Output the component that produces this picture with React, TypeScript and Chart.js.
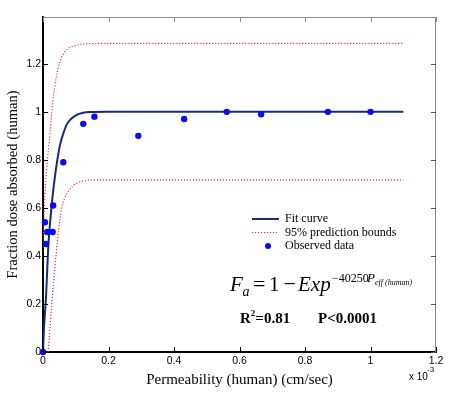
import React, { useEffect, useRef } from 'react';
import { Chart, registerables } from 'chart.js';

Chart.register(...registerables);

// x values are in units of 1e-3 cm/sec
const fitX = [0, 0.003, 0.009, 0.016, 0.0265, 0.037, 0.045, 0.052, 0.062, 0.072, 0.085, 0.103, 0.12, 0.144, 0.2, 0.4, 0.7, 1.1];
const fitY = [0, 0.1, 0.224, 0.432, 0.6125, 0.737, 0.81, 0.8625, 0.91, 0.946, 0.97, 0.9875, 0.995, 0.999, 1.0, 1.0, 1.0, 1.0];

const upperX = [0, 0.004, 0.011, 0.021, 0.03, 0.04, 0.052, 0.062, 0.072, 0.085, 0.103, 0.12, 0.144, 0.2, 0.5, 1.1];
const upperY = [0.42, 0.6, 0.76, 0.904, 1.043, 1.14, 1.21, 1.24, 1.258, 1.27, 1.278, 1.282, 1.284, 1.285, 1.285, 1.285];

const lowerX = [0.016, 0.019, 0.0265, 0.037, 0.047, 0.057, 0.066, 0.077, 0.09, 0.103, 0.12, 0.144, 0.2, 0.5, 1.1];
const lowerY = [0, 0.057, 0.196, 0.3625, 0.501, 0.599, 0.64, 0.668, 0.69, 0.703, 0.711, 0.716, 0.717, 0.717, 0.717];

const obsX = [0, 0.006, 0.009, 0.013, 0.0295, 0.031, 0.062, 0.123, 0.157, 0.291, 0.431, 0.561, 0.666, 0.87, 1.0];
const obsY = [0, 0.54, 0.45, 0.5, 0.5, 0.61, 0.79, 0.95, 0.98, 0.9, 0.97, 1.0, 0.99, 1.0, 1.0];

const xTicks = [0, 0.2, 0.4, 0.6, 0.8, 1.0, 1.2];
const yTicks = [0, 0.2, 0.4, 0.6, 0.8, 1.0, 1.2];

const legendLabels = ['Fit curve', '95% prediction bounds', 'Observed data'];
const xTitle = 'Permeability (human) (cm/sec)';
const yTitle = 'Fraction dose absorbed (human)';

const FIT_COLOR = '#1b2a78';
const BOUND_COLOR = '#e0333a';
const OBS_COLOR = '#0a0af5';
const SERIF = "'Liberation Serif', 'Times New Roman', serif";
const SANS = "'Liberation Sans', Arial, sans-serif";

const pts = (xs: number[], ys: number[]) => xs.map((x, i) => ({ x, y: ys[i] }));
const fmt = (v: number) => String(Math.round(v * 10) / 10);

export default function App() {
  const ref = useRef<HTMLCanvasElement>(null);

  useEffect(() => {
    document.body.style.margin = '0';
    const canvas = ref.current;
    if (!canvas) return;

    const overlay = {
      id: 'overlay',
      afterDraw(chart: any) {
        const c = chart.ctx as CanvasRenderingContext2D;
        const { left, right, top, bottom } = chart.chartArea;
        const xs = chart.scales.x;
        const ys = chart.scales.y;
        c.save();
        // top / right frame
        c.strokeStyle = '#8a8a8a';
        c.lineWidth = 1;
        c.beginPath();
        c.moveTo(left, top + 0.5);
        c.lineTo(right - 0.5, top + 0.5);
        c.lineTo(right - 0.5, bottom);
        c.stroke();
        // inner tick marks
        c.lineWidth = 1;
        for (const v of xTicks) {
          const px = Math.round(xs.getPixelForValue(v)) + 0.5;
          c.strokeStyle = '#000';
          c.beginPath();
          c.moveTo(px, bottom);
          c.lineTo(px, bottom - 5);
          c.stroke();
          c.strokeStyle = '#8a8a8a';
          c.beginPath();
          c.moveTo(px, top);
          c.lineTo(px, top + 5);
          c.stroke();
        }
        for (const v of yTicks) {
          const py = Math.round(ys.getPixelForValue(v)) + 0.5;
          c.strokeStyle = '#000';
          c.beginPath();
          c.moveTo(left, py);
          c.lineTo(left + 5, py);
          c.stroke();
          c.strokeStyle = '#555';
          c.beginPath();
          c.moveTo(right, py);
          c.lineTo(right - 5, py);
          c.stroke();
        }
        // x 10^-3
        c.fillStyle = '#000';
        c.textBaseline = 'alphabetic';
        c.textAlign = 'left';
        c.font = `10px ${SANS}`;
        c.fillText('x 10', 409, 379.5);
        c.font = `8px ${SANS}`;
        c.fillText('-3', 427, 372);

        // legend
        const lx0 = 252, lx1 = 279;
        const rows = [219, 232.5, 246];
        c.strokeStyle = FIT_COLOR;
        c.lineWidth = 2;
        c.beginPath();
        c.moveTo(lx0, rows[0]);
        c.lineTo(lx1, rows[0]);
        c.stroke();
        c.strokeStyle = BOUND_COLOR;
        c.lineWidth = 1.2;
        c.setLineDash([1.2, 1.8]);
        c.beginPath();
        c.moveTo(lx0, rows[1]);
        c.lineTo(lx1, rows[1]);
        c.stroke();
        c.setLineDash([]);
        c.fillStyle = OBS_COLOR;
        c.beginPath();
        c.arc(268, rows[2], 3, 0, Math.PI * 2);
        c.fill();
        c.fillStyle = '#000';
        c.font = `12px ${SERIF}`;
        c.textBaseline = 'middle';
        legendLabels.forEach((t, i) => c.fillText(t, 285, rows[i]));

        // equation
        c.textBaseline = 'alphabetic';
        c.font = `italic 21px ${SERIF}`;
        c.fillText('F', 230, 291);
        c.font = `italic 14px ${SERIF}`;
        c.fillText('a', 242.5, 295.5);
        c.font = `22px ${SERIF}`;
        c.fillText('=', 253, 291);
        c.font = `21px ${SERIF}`;
        c.fillText('1', 269, 291);
        c.font = `22px ${SERIF}`;
        c.fillText('\u2212', 283.5, 291);
        c.font = `italic 21px ${SERIF}`;
        c.fillText('Exp', 298, 291);
        c.font = `12px ${SERIF}`;
        c.fillText('\u221240250', 332, 281.5);
        c.font = `italic 13px ${SERIF}`;
        c.fillText('P', 367, 282);
        c.font = `italic 8px ${SERIF}`;
        c.fillText('eff (human)', 375, 284.5);

        // statistics
        c.font = `bold 15px ${SERIF}`;
        c.fillText('R', 240, 323);
        const rw = c.measureText('R').width;
        c.font = `bold 9px ${SERIF}`;
        c.fillText('2', 240 + rw, 316);
        const sw = c.measureText('2').width;
        c.font = `bold 15px ${SERIF}`;
        c.fillText('=0.81', 240 + rw + sw, 323);
        c.fillText('P<0.0001', 318, 323);
        c.restore();
      },
    };

    const chart = new Chart(canvas, {
      type: 'scatter',
      data: {
        datasets: [
          {
            label: 'Fit curve',
            data: pts(fitX, fitY),
            showLine: true,
            borderColor: FIT_COLOR,
            borderWidth: 2,
            pointRadius: 0,
            cubicInterpolationMode: 'monotone',
            order: 1,
          },
          {
            label: '95% prediction bounds',
            data: pts(upperX, upperY),
            showLine: true,
            borderColor: BOUND_COLOR,
            borderWidth: 1.2,
            borderDash: [1.2, 1.8],
            pointRadius: 0,
            cubicInterpolationMode: 'monotone',
            order: 2,
          },
          {
            label: '95% prediction bounds (lower)',
            data: pts(lowerX, lowerY),
            showLine: true,
            borderColor: BOUND_COLOR,
            borderWidth: 1.2,
            borderDash: [1.2, 1.8],
            pointRadius: 0,
            cubicInterpolationMode: 'monotone',
            order: 2,
          },
          {
            label: 'Observed data',
            data: pts(obsX, obsY),
            showLine: false,
            backgroundColor: OBS_COLOR,
            borderColor: OBS_COLOR,
            borderWidth: 0,
            pointRadius: 3.2,
            clip: false,
            order: 0,
          } as any,
        ],
      },
      options: {
        animation: false,
        responsive: false,
        devicePixelRatio: 1,
        layout: { padding: { top: 17, right: 16, left: 0, bottom: 0 } },
        plugins: {
          legend: { display: false },
          tooltip: { enabled: false },
        },
        scales: {
          x: {
            type: 'linear',
            min: 0,
            max: 1.2,
            afterBuildTicks: (s: any) => {
              s.ticks = xTicks.map((v) => ({ value: v }));
            },
            afterFit: (s: any) => {
              s.height = 41;
            },
            grid: { display: false, drawTicks: false },
            border: { display: true, color: '#000', width: 2 },
            ticks: {
              padding: 3,
              color: '#000',
              font: { family: SANS, size: 10.5 },
              callback: (v: any) => fmt(Number(v)),
              maxRotation: 0,
            },
            title: {
              display: true,
              text: xTitle,
              color: '#000',
              font: { family: SERIF, size: 15 },
              padding: { top: 0, bottom: 4 },
            },
          },
          y: {
            type: 'linear',
            min: 0,
            max: 1.395,
            afterBuildTicks: (s: any) => {
              s.ticks = yTicks.map((v) => ({ value: v }));
            },
            afterFit: (s: any) => {
              s.width = 43;
            },
            grid: { display: false, drawTicks: false },
            border: { display: true, color: '#000', width: 2 },
            ticks: {
              padding: 2,
              color: '#000',
              font: { family: SANS, size: 10.5 },
              callback: (v: any) => fmt(Number(v)),
            },
            title: {
              display: true,
              text: yTitle,
              color: '#000',
              font: { family: SERIF, size: 14.6 },
              padding: { top: 4, bottom: 0 },
            },
          },
        },
      },
      plugins: [overlay],
    } as any);

    return () => chart.destroy();
  }, []);

  return (
    <div style={{ width: 452, height: 393, background: '#fff' }}>
      <canvas ref={ref} width={452} height={393} style={{ display: 'block', width: 452, height: 393 }} />
    </div>
  );
}
